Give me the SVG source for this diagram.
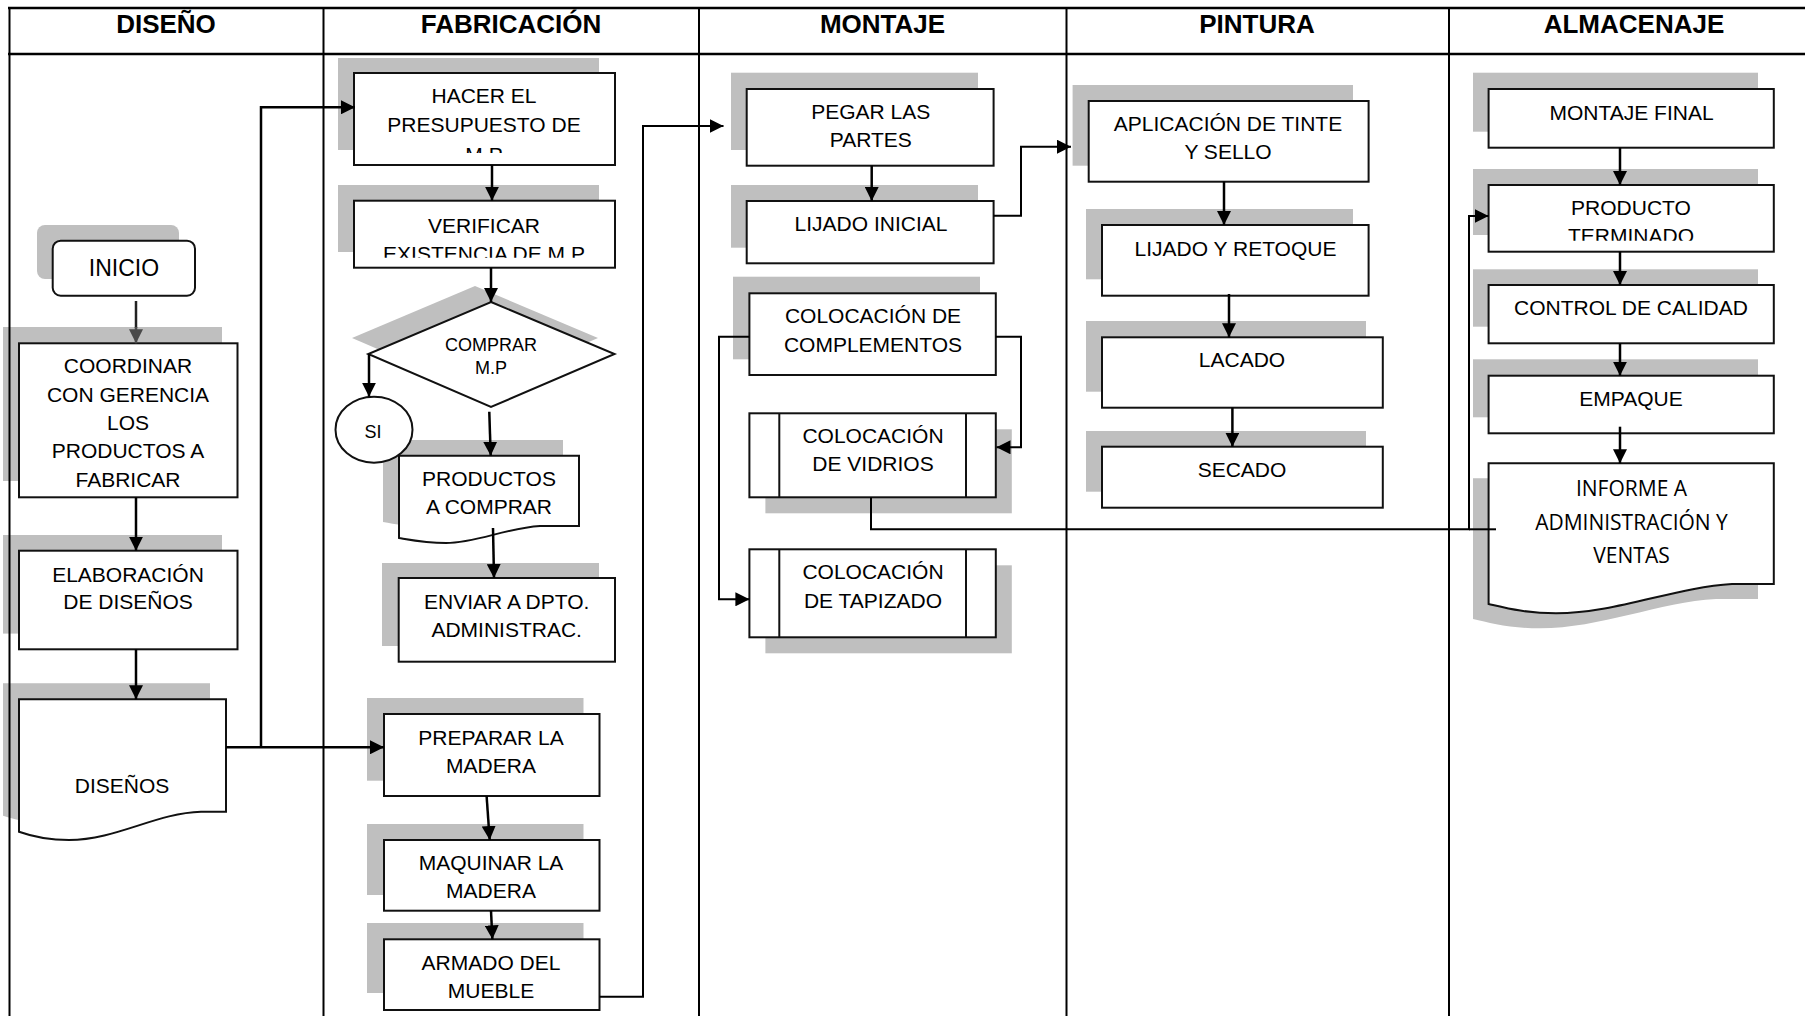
<svg xmlns="http://www.w3.org/2000/svg" width="1805" height="1016" viewBox="0 0 1805 1016">
<style>
.bg{fill:#fff}
.sh{fill:#bfbfbf;stroke:none}
.bx{fill:#fff;stroke:#111;stroke-width:2}
.t{font-family:"Liberation Sans",Arial,sans-serif;font-size:21px;text-anchor:middle;fill:#000}
.s{font-size:18px}
.i{font-size:23px}
.h{font-family:"Liberation Sans",Arial,sans-serif;font-size:26px;font-weight:bold;text-anchor:middle;fill:#000}
.o{font-family:"Open Sans","Liberation Sans",sans-serif;font-size:21px;text-anchor:middle;fill:#000}
.grid{stroke:#000;fill:none}
.c{fill:none;stroke:#000;stroke-width:2.5}
.cn{fill:none;stroke:#000;stroke-width:2}
</style>
<defs>
<marker id="ah" markerUnits="userSpaceOnUse" markerWidth="14" markerHeight="14" refX="14" refY="7" orient="auto">
<path d="M0,0 L14,7 L0,14 Z" fill="#000"/>
</marker>
<marker id="ahg" markerUnits="userSpaceOnUse" markerWidth="14" markerHeight="14" refX="14" refY="7" orient="auto">
<path d="M0,0 L14,7 L0,14 Z" fill="#4a4a4a"/>
</marker>
<clipPath id="clipHacer"><rect x="354" y="73" width="261" height="80"/></clipPath>
<clipPath id="clipVerif"><rect x="354" y="200" width="261" height="57.7"/></clipPath>
<clipPath id="clipProd"><rect x="1488" y="185" width="286" height="55.7"/></clipPath>
</defs>
<rect class="bg" x="0" y="0" width="1805" height="1016"/>

<!-- DISEÑO -->
<g id="inicio">
<rect class="sh" x="37" y="225" width="142" height="54" rx="8"/>
<rect class="bx" x="52.7" y="240.7" width="142.3" height="55" rx="8"/>
<text class="t i" x="124" y="276">INICIO</text>
</g>
<g id="coordinar">
<rect class="sh" x="3" y="327" width="219" height="154"/>
<rect class="bx" x="19" y="343.3" width="218.5" height="154"/>
<text class="t" x="128" y="373.3">COORDINAR</text>
<text class="t" x="128" y="401.7">CON GERENCIA</text>
<text class="t" x="128" y="430">LOS</text>
<text class="t" x="128" y="458.3">PRODUCTOS A</text>
<text class="t" x="128" y="486.7">FABRICAR</text>
</g>
<g id="elaboracion">
<rect class="sh" x="3" y="535" width="219" height="98.6"/>
<rect class="bx" x="19" y="550.7" width="218.5" height="98.6"/>
<text class="t" x="128" y="581.7">ELABORACIÓN</text>
<text class="t" x="128" y="609.3">DE DISEÑOS</text>
</g>
<g id="disenos">
<path class="sh" d="M3,683.3 H210 V795.7 L185,795.7 C140,797 100,824 53,824 C35,824 15,820 3,815.7 Z"/>
<path class="bx" d="M19,699.3 H226 V811.7 L201,811.7 C156,813 116,840 69,840 C51,840 31,836 19,831.7 Z"/>
<text class="t" x="122" y="793">DISEÑOS</text>
</g>

<!-- FABRICACIÓN -->
<g id="hacer">
<rect class="sh" x="338" y="58" width="261" height="92"/>
<rect class="bx" x="354" y="73" width="261" height="92"/>
<g clip-path="url(#clipHacer)">
<text class="t" x="484" y="103">HACER EL</text>
<text class="t" x="484" y="132">PRESUPUESTO DE</text>
<text class="t" x="484" y="162">M.P</text>
</g>
</g>
<g id="verificar">
<rect class="sh" x="338" y="185" width="261" height="67"/>
<rect class="bx" x="354" y="200.7" width="261" height="67"/>
<g clip-path="url(#clipVerif)">
<text class="t" x="484" y="232.7">VERIFICAR</text>
<text class="t" x="484" y="261">EXISTENCIA DE M.P</text>
</g>
</g>
<g id="comprar">
<path class="sh" d="M475,286 L598,338 L475,391 L352,338 Z"/>
<path class="bx" d="M491,302 L614.5,354 L491,407 L368.3,354 Z"/>
<text class="t s" x="491" y="350.7">COMPRAR</text>
<text class="t s" x="491" y="374">M.P</text>
</g>
<g id="productos">
<path class="sh" d="M383,440 H563 V510 L524,510 C490,512 460,527 430,527 C410,527 395,524 383,522 Z"/>
<path class="bx" d="M399,455.7 H579 V526 L540,526 C506,528 476,543 446,543 C426,543 411,540 399,538 Z"/>
<text class="t" x="489" y="486">PRODUCTOS</text>
<text class="t" x="489" y="514.3">A COMPRAR</text>
</g>
<g id="si">
<ellipse class="bx" cx="374" cy="429.7" rx="38.5" ry="33"/>
<text class="t s" x="373" y="438">SI</text>
</g>
<g id="enviar">
<rect class="sh" x="382" y="563" width="217" height="83"/>
<rect class="bx" x="398.7" y="578" width="216.3" height="83.7"/>
<text class="t" x="506.7" y="609">ENVIAR A DPTO.</text>
<text class="t" x="506.7" y="637">ADMINISTRAC.</text>
</g>
<g id="preparar">
<rect class="sh" x="367" y="698" width="216.5" height="82.7"/>
<rect class="bx" x="384" y="714" width="215.5" height="82"/>
<text class="t" x="491" y="745">PREPARAR LA</text>
<text class="t" x="491" y="772.7">MADERA</text>
</g>
<g id="maquinar">
<rect class="sh" x="367" y="824" width="216.5" height="71"/>
<rect class="bx" x="384" y="840" width="215.5" height="70.7"/>
<text class="t" x="491" y="870">MAQUINAR LA</text>
<text class="t" x="491" y="898.3">MADERA</text>
</g>
<g id="armado">
<rect class="sh" x="367" y="923" width="216.5" height="70"/>
<rect class="bx" x="384" y="939.3" width="215.5" height="70.7"/>
<text class="t" x="491" y="970">ARMADO DEL</text>
<text class="t" x="491" y="997.7">MUEBLE</text>
</g>

<!-- MONTAJE -->
<g id="pegar">
<rect class="sh" x="731" y="72.7" width="247" height="77.3"/>
<rect class="bx" x="746.7" y="89" width="246.9" height="76.7"/>
<text class="t" x="870.8" y="119">PEGAR LAS</text>
<text class="t" x="870.8" y="146.7">PARTES</text>
</g>
<g id="lijadoinicial">
<rect class="sh" x="731" y="185" width="247" height="62.7"/>
<rect class="bx" x="746.7" y="201" width="246.9" height="62.3"/>
<text class="t" x="871" y="231">LIJADO INICIAL</text>
</g>
<g id="complementos">
<rect class="sh" x="733" y="276.7" width="247" height="82.6"/>
<rect class="bx" x="749.4" y="293.3" width="246.4" height="81.7"/>
<text class="t" x="873" y="323.3">COLOCACIÓN DE</text>
<text class="t" x="873" y="351.7">COMPLEMENTOS</text>
</g>
<g id="vidrios">
<rect class="sh" x="765.4" y="429.3" width="246.4" height="84"/>
<rect class="bx" x="749.4" y="413.3" width="246.4" height="84"/>
<line class="bx" x1="779.3" y1="413.3" x2="779.3" y2="497.3"/>
<line class="bx" x1="966" y1="413.3" x2="966" y2="497.3"/>
<text class="t" x="873" y="443.3">COLOCACIÓN</text>
<text class="t" x="873" y="470.7">DE VIDRIOS</text>
</g>
<g id="tapizado">
<rect class="sh" x="765.4" y="565.3" width="246.4" height="88"/>
<rect class="bx" x="749.4" y="549.3" width="246.4" height="88"/>
<line class="bx" x1="779.3" y1="549.3" x2="779.3" y2="637.3"/>
<line class="bx" x1="966" y1="549.3" x2="966" y2="637.3"/>
<text class="t" x="873" y="579.3">COLOCACIÓN</text>
<text class="t" x="873" y="608.3">DE TAPIZADO</text>
</g>

<!-- PINTURA -->
<g id="aplicacion">
<rect class="sh" x="1072.6" y="85" width="280.4" height="80.7"/>
<rect class="bx" x="1088.7" y="101" width="279.9" height="80.7"/>
<text class="t" x="1228" y="130.7">APLICACIÓN DE TINTE</text>
<text class="t" x="1228" y="159.3">Y SELLO</text>
</g>
<g id="lijadoretoque">
<rect class="sh" x="1086" y="209" width="267" height="70.3"/>
<rect class="bx" x="1102" y="225" width="266.6" height="70.7"/>
<text class="t" x="1235.5" y="256">LIJADO Y RETOQUE</text>
</g>
<g id="lacado">
<rect class="sh" x="1086" y="321" width="280" height="70.7"/>
<rect class="bx" x="1102" y="337.3" width="280.8" height="70.4"/>
<text class="t" x="1242" y="366.7">LACADO</text>
</g>
<g id="secado">
<rect class="sh" x="1086" y="431" width="280" height="60.7"/>
<rect class="bx" x="1102" y="446.7" width="280.8" height="61"/>
<text class="t" x="1242" y="476.7">SECADO</text>
</g>

<!-- ALMACENAJE -->
<g id="montajefinal">
<rect class="sh" x="1473" y="72.7" width="285" height="59"/>
<rect class="bx" x="1488.6" y="89" width="285.2" height="58.7"/>
<text class="t" x="1631.5" y="120">MONTAJE FINAL</text>
</g>
<g id="productoterminado">
<rect class="sh" x="1473" y="169" width="285" height="66"/>
<rect class="bx" x="1488.6" y="185" width="285.2" height="66.7"/>
<g clip-path="url(#clipProd)">
<text class="t" x="1631" y="215">PRODUCTO</text>
<text class="t" x="1631" y="243.3">TERMINADO</text>
</g>
</g>
<g id="control">
<rect class="sh" x="1473" y="269.3" width="285" height="57.4"/>
<rect class="bx" x="1488.6" y="285" width="285.2" height="58.3"/>
<text class="t" x="1631" y="315">CONTROL DE CALIDAD</text>
</g>
<g id="empaque">
<rect class="sh" x="1473" y="359.3" width="285" height="58"/>
<rect class="bx" x="1488.6" y="375.7" width="285.2" height="57.6"/>
<text class="t" x="1631" y="405.7">EMPAQUE</text>
</g>
<g id="informe">
<path class="sh" d="M1473,478.3 H1758 V599 L1716,599 C1660,602 1600,628.3 1540,628.3 C1510,628.3 1490,623 1473,619 Z"/>
<path class="bx" d="M1488.6,463.3 H1773.8 V584 L1732,584 C1676,587 1616,613.3 1556,613.3 C1526,613.3 1506,608 1488.6,604 Z"/>
<text class="o" x="1631.5" y="496">INFORME A</text>
<text class="o" x="1631.5" y="530">ADMINISTRACIÓN Y</text>
<text class="o" x="1631.5" y="563.3">VENTAS</text>
</g>

<!-- connectors -->
<g id="connectors">
<line x1="136" y1="301" x2="136" y2="328" stroke="#222" stroke-width="2.5"/>
<line x1="136" y1="327" x2="136" y2="343.3" stroke="#4a4a4a" stroke-width="2.5" marker-end="url(#ahg)"/>
<line class="c" x1="136" y1="497.3" x2="136" y2="550.7" marker-end="url(#ah)"/>
<line class="c" x1="136" y1="649.3" x2="136" y2="699.3" marker-end="url(#ah)"/>
<line class="c" x1="226" y1="747.3" x2="384" y2="747.3" marker-end="url(#ah)"/>
<polyline class="c" points="261,747.3 261,107.3 355,107.3" marker-end="url(#ah)"/>
<line class="c" x1="492" y1="165" x2="492" y2="200.7" marker-end="url(#ah)"/>
<line class="c" x1="491" y1="267.7" x2="491" y2="302" marker-end="url(#ah)"/>
<polyline class="c" points="369,354 369,396.7" marker-end="url(#ah)"/>
<line class="c" x1="489.3" y1="411.7" x2="490.7" y2="455.7" marker-end="url(#ah)"/>
<line class="c" x1="493" y1="528" x2="494" y2="578" marker-end="url(#ah)"/>
<line class="c" x1="486.6" y1="796" x2="489.7" y2="840" marker-end="url(#ah)"/>
<line class="c" x1="491" y1="910.7" x2="492.4" y2="939.3" marker-end="url(#ah)"/>
<polyline class="cn" points="599.5,996.7 643,996.7 643,126 723.5,126" marker-end="url(#ah)"/>
<line class="c" x1="871.7" y1="165.7" x2="871.7" y2="201" marker-end="url(#ah)"/>
<polyline class="cn" points="993.6,215.7 1021,215.7 1021,146.7 1071,146.7" marker-end="url(#ah)"/>
<polyline class="cn" points="995.8,336.7 1021,336.7 1021,447.3 996.5,447.3" marker-end="url(#ah)"/>
<polyline class="cn" points="749.4,336.7 719,336.7 719,599.3 749.4,599.3" marker-end="url(#ah)"/>
<polyline class="cn" points="871,497.3 871,529.3 1469,529.3 1469,216 1488.6,216" marker-end="url(#ah)"/>
<line class="cn" x1="1469" y1="529.3" x2="1496" y2="529.3"/>
<line class="c" x1="1224" y1="181.7" x2="1224" y2="225" marker-end="url(#ah)"/>
<line class="c" x1="1229" y1="294" x2="1229" y2="337.3" marker-end="url(#ah)"/>
<line class="c" x1="1232.4" y1="407.7" x2="1232.4" y2="446.7" marker-end="url(#ah)"/>
<line class="c" x1="1620" y1="147.7" x2="1620" y2="185" marker-end="url(#ah)"/>
<line class="c" x1="1620" y1="251.7" x2="1620" y2="285" marker-end="url(#ah)"/>
<line class="c" x1="1620" y1="343.3" x2="1620" y2="375.7" marker-end="url(#ah)"/>
<line class="c" x1="1620" y1="426.7" x2="1620" y2="463.3" marker-end="url(#ah)"/>
</g>

<!-- table grid -->
<g id="grid" class="grid">
<line x1="8" y1="8" x2="1805" y2="8" stroke-width="2.5"/>
<line x1="8" y1="54" x2="1805" y2="54" stroke-width="2.5"/>
<line x1="9.5" y1="8" x2="9.5" y2="1016" stroke-width="2"/>
<line x1="323.5" y1="8" x2="323.5" y2="1016" stroke-width="2"/>
<line x1="699" y1="8" x2="699" y2="1016" stroke-width="2"/>
<line x1="1066.5" y1="8" x2="1066.5" y2="1016" stroke-width="2"/>
<line x1="1449" y1="8" x2="1449" y2="1016" stroke-width="2"/>
</g>
<g id="headers">
<text class="h" x="166" y="33">DISEÑO</text>
<text class="h" x="511" y="33">FABRICACIÓN</text>
<text class="h" x="882.5" y="33">MONTAJE</text>
<text class="h" x="1257" y="33">PINTURA</text>
<text class="h" x="1634" y="33">ALMACENAJE</text>
</g>
</svg>
